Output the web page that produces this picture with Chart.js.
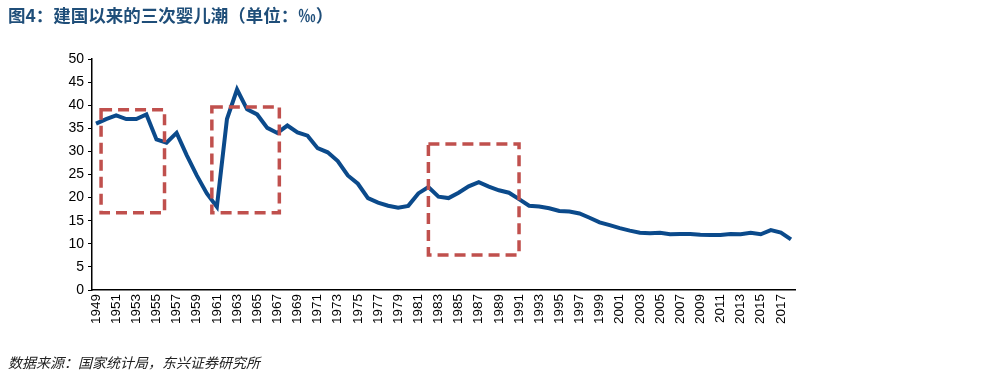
<!DOCTYPE html>
<html><head><meta charset="utf-8">
<script src="https://cdn.jsdelivr.net/npm/chart.js@4/dist/chart.umd.min.js"></script>
<style>
html,body{margin:0;padding:0;background:#fff;width:1000px;height:382px;overflow:hidden}
#wrap{position:absolute;left:0;top:0;width:1000px;height:382px}
#title{position:absolute;left:8px;top:2px;font-family:"Noto Sans CJK SC";font-weight:bold;font-size:17.5px;color:#1F4E79;white-space:nowrap}
#src{position:absolute;left:8px;top:352px;font-family:"Noto Sans CJK SC";font-style:italic;font-size:14px;color:#222;white-space:nowrap}
</style></head><body>
<div id="wrap"><canvas id="c" width="1000" height="382"></canvas></div>
<div id="title">图4：建国以来的三次婴儿潮（单位：‰）</div>
<div id="src">数据来源：国家统计局，东兴证券研究所</div>
<script>
const years = [];
for (let y = 1949; y <= 2018; y++) years.push(y);
const birthRate = [36.0,37.0,37.8,37.0,37.0,38.0,32.6,31.9,34.0,29.2,24.8,20.9,18.0,37.0,43.4,39.1,38.0,35.1,34.0,35.6,
34.1,33.4,30.7,29.8,27.9,24.8,23.0,19.9,18.9,18.25,17.82,18.21,20.91,22.28,20.19,19.90,21.04,22.43,23.33,22.37,
21.58,21.06,19.68,18.24,18.09,17.70,17.12,16.98,16.57,15.64,14.64,14.03,13.38,12.86,12.41,12.29,12.40,12.09,12.10,12.14,
11.95,11.90,11.93,12.10,12.08,12.37,12.07,12.95,12.43,10.94];
const tickYears = [];
for (let y = 1949; y <= 2017; y += 2) tickYears.push(y);
const yTicks = [0,5,10,15,20,25,30,35,40,45,50];
// highlight boxes (baby booms) in data units
const boxX0 = [1949.5, 1960.5, 1982.0];
const boxX1 = [1955.8, 1967.2, 1991.0];
const boxY0 = [16.7, 16.7, 7.6];
const boxY1 = [39.0, 39.6, 31.6];

const boxPlugin = {
  id: 'boxes',
  afterDatasetsDraw(chart) {
    const ctx = chart.ctx, xs = chart.scales.x, ys = chart.scales.y;
    ctx.save();
    ctx.strokeStyle = '#C0504D';
    ctx.lineWidth = 3.5;
    ctx.setLineDash([11, 6]);
    for (let i = 0; i < boxX0.length; i++) {
      const x0 = xs.getPixelForValue(boxX0[i]), x1 = xs.getPixelForValue(boxX1[i]);
      const y0 = ys.getPixelForValue(boxY1[i]), y1 = ys.getPixelForValue(boxY0[i]);
      ctx.strokeRect(x0, y0, x1 - x0, y1 - y0);
    }
    ctx.restore();
  }
};

new Chart(document.getElementById('c'), {
  type: 'line',
  data: { datasets: [{ data: years.map((y, i) => ({x: y, y: birthRate[i]})), borderColor: '#0B4A8B', borderWidth: 4, pointRadius: 0, tension: 0, fill: false }] },
  options: {
    responsive: false, animation: false,
    layout: { padding: { left: 0, right: 205, top: 59, bottom: 0 } },
    plugins: { legend: { display: false }, tooltip: { enabled: false } },
    scales: {
      x: {
        type: 'linear', min: 1948.6, max: 2018.4,
        afterBuildTicks(s) { s.ticks = tickYears.map(v => ({ value: v })); },
        afterFit(s) { s.height = 92; },
        grid: { display: false, drawTicks: false },
        border: { display: true, color: '#000', width: 1.5 },
        ticks: { autoSkip: false, minRotation: 90, maxRotation: 90, padding: 4, color: '#000', font: { family: 'Liberation Sans', size: 13.5 }, callback: v => String(v) }
      },
      y: {
        min: 0, max: 50,
        afterBuildTicks(s) { s.ticks = yTicks.map(v => ({ value: v })); },
        afterFit(s) { s.width = 92; },
        grid: { drawOnChartArea: false, drawTicks: true, tickLength: 4, color: '#000' },
        border: { display: true, color: '#000', width: 1.5 },
        ticks: { padding: 4, color: '#000', font: { family: 'Liberation Sans', size: 14 } }
      }
    }
  },
  plugins: [boxPlugin]
});
</script>
</body></html>
